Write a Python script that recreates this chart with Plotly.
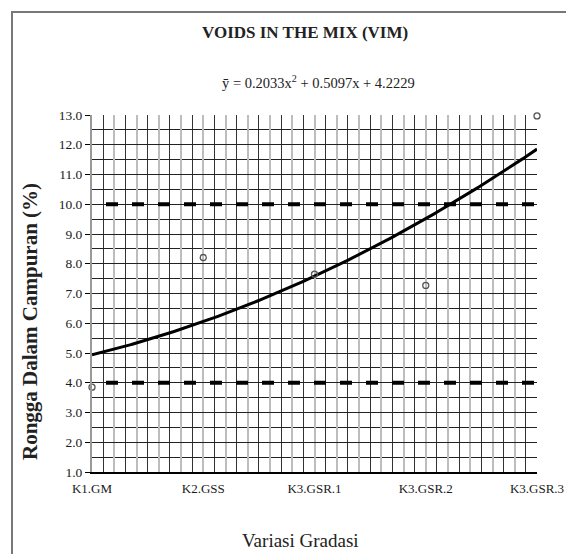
import numpy as np
import plotly.graph_objects as go

# ---- data ----
categories = ["K1.GM", "K2.GSS", "K3.GSR.1", "K3.GSR.2", "K3.GSR.3"]
cat_pos = [1, 2, 3, 4, 5]
vim_values = [3.85, 8.21, 7.65, 7.27, 12.97]
trend_coef = [0.2033, 0.5097, 4.2229]   # a*x^2 + b*x + c
spec_min = 4.0
spec_max = 10.0
y_tick_vals = [1, 2, 3, 4, 5, 6, 7, 8, 9, 10, 11, 12, 13]

x_fit = np.linspace(cat_pos[0], cat_pos[-1], 200)
y_fit = np.polyval(trend_coef, x_fit)

W, H = 566, 554
L, R, T, B = 92, 29, 115, 82
pw, ph = W - L - R, H - T - B

def px(x):
    return (x - L) / pw

def py(y):
    return (H - B - y) / ph

SERIF = "Liberation Serif, Times New Roman, serif"

fig = go.Figure()

# spec limit dashed lines
for lim in (spec_min, spec_max):
    fig.add_trace(go.Scatter(
        x=[cat_pos[0], cat_pos[-1]], y=[lim, lim], mode="lines",
        line=dict(color="black", width=4, dash="0px,14px,12px,0px"),
        hoverinfo="skip", showlegend=False))

# trendline
fig.add_trace(go.Scatter(
    x=x_fit, y=y_fit, mode="lines",
    line=dict(color="black", width=3),
    hoverinfo="skip", showlegend=False))

# data points
fig.add_trace(go.Scatter(
    x=cat_pos, y=vim_values, mode="markers",
    marker=dict(symbol="circle-open", size=6, color="#555555", line=dict(width=1.3)),
    cliponaxis=False, showlegend=False))

x_major = np.round(np.arange(1, 5.0001, 0.2), 2)
x_text = [categories[int(v) - 1] if abs(v - round(v)) < 1e-6 else " " for v in x_major]

fig.update_layout(
    width=W, height=H,
    margin=dict(l=L, r=R, t=T, b=B, autoexpand=False),
    paper_bgcolor="white", plot_bgcolor="white",
    font=dict(family=SERIF, color="#222222", size=13),
    xaxis=dict(
        range=[1, 5], tickmode="array", tickvals=list(x_major), ticktext=x_text,
        tickangle=0, automargin=False,
        showgrid=True, gridcolor="#bdbdbd", gridwidth=2,
        minor=dict(tick0=1.1, dtick=0.2, showgrid=True, gridcolor="#333333", gridwidth=1),
        showline=True, linecolor="black", linewidth=1.5,
        ticks="", ticklabelstandoff=4, zeroline=False,
        tickfont=dict(family=SERIF, size=13, color="#1a1a1a"),
    ),
    yaxis=dict(
        range=[1, 13], tickmode="array", tickvals=y_tick_vals,
        ticktext=[f"{v:.1f}" for v in y_tick_vals], automargin=False,
        showgrid=True, gridcolor="#222222", gridwidth=1,
        minor=dict(dtick=0.5, showgrid=True, gridcolor="#222222", gridwidth=1),
        showline=True, linecolor="#999999", linewidth=2,
        ticks="outside", ticklen=5, tickcolor="black", tickwidth=1,
        zeroline=False,
        tickfont=dict(family=SERIF, size=13.5, color="#1a1a1a"),
    ),
    shapes=[dict(type="rect", xref="paper", yref="paper",
                 x0=px(12), x1=px(W + 10), y0=py(H + 10), y1=py(12),
                 line=dict(color="#777777", width=2), fillcolor="rgba(0,0,0,0)",
                 layer="below")],
    annotations=[
        dict(text="<b>VOIDS IN THE MIX (VIM)</b>", xref="paper", yref="paper",
             x=px(305), y=py(33), showarrow=False, xanchor="center", yanchor="middle",
             font=dict(family=SERIF, size=17, color="#222222")),
        dict(text="ȳ = 0.2033x<sup>2</sup> + 0.5097x + 4.2229", xref="paper", yref="paper",
             x=px(318), y=py(82), showarrow=False, xanchor="center", yanchor="middle",
             font=dict(family=SERIF, size=14.5, color="#222222")),
        dict(text="<b>Rongga Dalam Campuran (%)</b>", xref="paper", yref="paper",
             x=px(30), y=py(322), showarrow=False, textangle=-90,
             xanchor="center", yanchor="middle",
             font=dict(family=SERIF, size=21, color="#222222")),
        dict(text="Variasi Gradasi", xref="paper", yref="paper",
             x=px(300), y=py(540), showarrow=False, xanchor="center", yanchor="middle",
             font=dict(family=SERIF, size=19, color="#222222")),
    ],
)

fig.write_html(
    "out.html",
    config={"displayModeBar": False},
    post_script="document.body.style.margin='0';"
                "document.documentElement.style.overflow='hidden';",
)
